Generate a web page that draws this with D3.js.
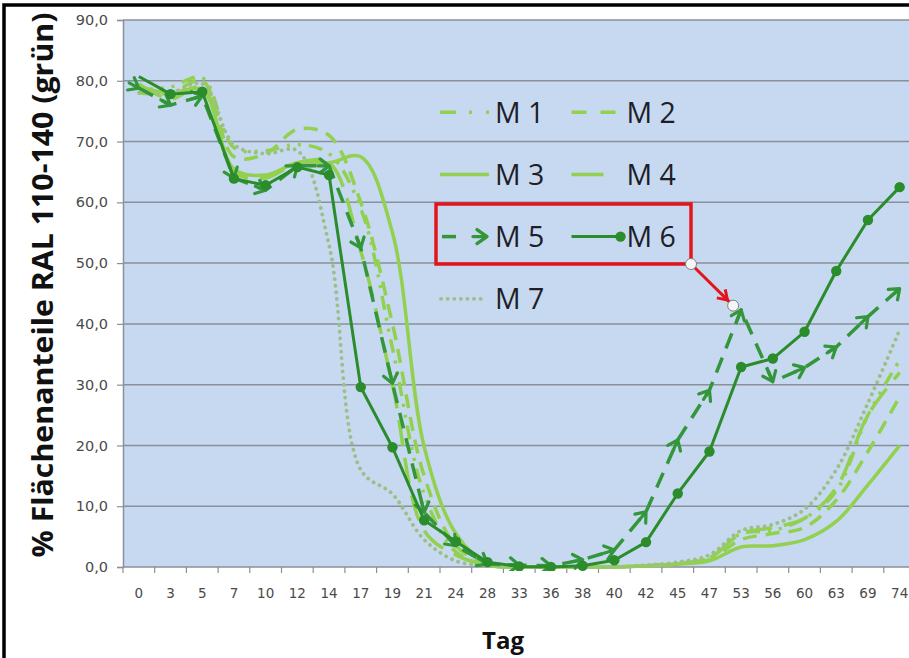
<!DOCTYPE html>
<html>
<head>
<meta charset="utf-8">
<script src="https://cdn.jsdelivr.net/npm/d3@7"></script>
<style>
  body { margin: 0; background: #fff; }
  svg { display: block; }
</style>
</head>
<body>
<div id="chart"></div>
<script>
// Tage (Kategorien)
const days = ["0", "3", "5", "7", "10", "12", "14", "17", "19", "21", "24", "28", "33",
              "36", "38", "40", "42", "45", "47", "53", "56", "60", "63", "69", "74"];

// Flächenanteile je Messreihe
const m1 = [78.5, 79, 80.5, 69, 68.5, 69.5, 68, 59, 36, 12, 2.5, 0.3, 0, 0, 0, 0, 0.2, 0.5, 1.5, 5.5, 6, 8, 12.5, 25, 34];
const m2 = [78, 78, 80, 67.5, 68, 72, 71, 60, 40, 15, 3.5, 0.5, 0, 0, 0, 0, 0.2, 0.5, 1.2, 4.5, 5.5, 6.5, 11, 19, 28];
const m3 = [79, 78, 78.5, 65.5, 64.5, 66.5, 66.5, 67.5, 55, 19.8, 5.5, 0.5, 0, 0, 0, 0, 0.2, 0.5, 1, 3.3, 3.5, 4.5, 7.5, 13.5, 20];
const m4 = [79.5, 77, 79, 65, 64, 66.5, 66.5, 52, 30, 6, 2, 0.3, 0, 0, 0, 0, 0.2, 0.6, 1.5, 5.5, 6.5, 8, 13, 25, 32];
const m5 = [78.8, 76, 77.5, 64, 62, 66, 66, 52.5, 30.2, 9, 3.5, 0.5, 0.3, 0.2, 1.2, 2.8, 9.1, 20.9, 29.1, 42.3, 30.5, 32.8, 36.2, 41.2, 45.8];
const m6 = [80.7, 77.8, 78.2, 63.9, 62.8, 65.8, 64.5, 29.6, 19.7, 7.7, 4.2, 0.8, 0.1, 0, 0.2, 1.1, 4.1, 12.1, 19, 32.9, 34.3, 38.7, 48.7, 57.1, 62.5];
const m7 = [78, 78, 79.5, 69.5, 68, 68.5, 53, 16, 12, 4.5, 1, 0.2, 0, 0, 0, 0, 0.3, 0.8, 2, 6, 7, 9.5, 16, 27, 39];

const seriesNames = ["M 1", "M 2", "M 3", "M 4", "M 5", "M 6", "M 7"];
const yTicks = [0, 10, 20, 30, 40, 50, 60, 70, 80, 90];

const series = [
  { name: seriesNames[0], values: m1, color: "#92d050", dash: "14,8,3,8,3,8", width: 3.5, smooth: true },
  { name: seriesNames[1], values: m2, color: "#92d050", dash: "14,9", width: 3.5, smooth: true },
  { name: seriesNames[2], values: m3, color: "#92d050", dash: null, width: 3.5, smooth: true },
  { name: seriesNames[3], values: m4, color: "#92d050", dash: "26,12", width: 3.5, smooth: true },
  { name: seriesNames[6], values: m7, color: "#9cbf88", dash: "0.1,6.5", width: 3.8, smooth: true, round: true },
  { name: seriesNames[4], values: m5, color: "#33963a", dash: "16,10", width: 3.5, marker: "arrow" },
  { name: seriesNames[5], values: m6, color: "#2a8c2a", dash: null, width: 3, marker: "circle" }
];

const W = 909, H = 658;
const plotLeft = 123, plotTop = 20, plotBottom = 567;
const step = 31.7;

const svg = d3.select("#chart").append("svg")
  .attr("width", W).attr("height", H);

const x = d3.scaleBand()
  .domain(days)
  .range([plotLeft, plotLeft + step * days.length])
  .padding(0);

const y = d3.scaleLinear()
  .domain([0, 90])
  .range([plotBottom, plotTop]);

const cx = d => x(d) + x.bandwidth() / 2;

// Plotfläche
svg.append("rect")
  .attr("x", plotLeft).attr("y", plotTop)
  .attr("width", x.range()[1] - plotLeft).attr("height", plotBottom - plotTop)
  .attr("fill", "#c6d9f0");

// Gitterlinien
svg.selectAll(".grid")
  .data(yTicks.filter(d => d > 0))
  .enter().append("line")
  .attr("x1", plotLeft).attr("x2", x.range()[1])
  .attr("y1", d => y(d)).attr("y2", d => y(d))
  .attr("stroke", "#8a9099").attr("stroke-width", 1.5);

// Y-Achse
const yAxis = d3.axisLeft(y)
  .tickValues(yTicks)
  .tickSize(6)
  .tickPadding(9)
  .tickFormat(d => d3.format(".1f")(d).replace(".", ","));

const gy = svg.append("g")
  .attr("transform", `translate(${plotLeft},0)`)
  .call(yAxis);
gy.select(".domain").attr("stroke", "#8a9099").attr("stroke-width", 1.5);
gy.selectAll(".tick line").attr("stroke", "#8a9099").attr("stroke-width", 1.2);
gy.selectAll(".tick text")
  .attr("fill", "#4a4a4a")
  .style("font-family", "DejaVu Sans")
  .style("font-size", "14.5px");

// X-Achse
svg.append("line")
  .attr("x1", plotLeft).attr("x2", x.range()[1])
  .attr("y1", plotBottom).attr("y2", plotBottom)
  .attr("stroke", "#8a9099").attr("stroke-width", 1.5);

svg.selectAll(".xtick")
  .data(days)
  .enter().append("line")
  .attr("x1", d => x(d)).attr("x2", d => x(d))
  .attr("y1", plotBottom).attr("y2", plotBottom + 6)
  .attr("stroke", "#8a9099").attr("stroke-width", 1.2);

svg.selectAll(".xlabel")
  .data(days)
  .enter().append("text")
  .attr("x", d => cx(d))
  .attr("y", 598)
  .attr("text-anchor", "middle")
  .attr("fill", "#4a4a4a")
  .style("font-family", "DejaVu Sans")
  .style("font-size", "13.5px")
  .text(d => d);

// Linien
svg.append("clipPath").attr("id", "plotclip")
  .append("rect").attr("x", plotLeft).attr("y", 0).attr("width", W).attr("height", plotBottom + 4);

const gLines = svg.append("g").attr("clip-path", "url(#plotclip)");

series.forEach(s => {
  const pts = s.values.map((v, i) => [cx(days[i]), y(v)]);
  const line = d3.line()
    .curve(s.smooth ? d3.curveCatmullRom.alpha(0.5) : d3.curveLinear);
  gLines.append("path")
    .attr("d", line(pts))
    .attr("fill", "none")
    .attr("stroke", s.color)
    .attr("stroke-width", s.width)
    .attr("stroke-linecap", s.round ? "round" : "butt")
    .attr("stroke-linejoin", "round")
    .attr("stroke-dasharray", s.dash);

  if (s.marker === "circle") {
    gLines.selectAll(null)
      .data(pts.slice(1))
      .enter().append("circle")
      .attr("cx", p => p[0]).attr("cy", p => p[1])
      .attr("r", 5.2)
      .attr("fill", s.color);
  }
  if (s.marker === "arrow") {
    pts.forEach((p, i) => {
      const a = i > 0 ? pts[i - 1] : p;
      const b = i > 0 ? p : pts[1];
      const ang = Math.atan2(b[1] - a[1], b[0] - a[0]) * 180 / Math.PI;
      gLines.append("path")
        .attr("d", "M-9,-7L0,0L-9,7M0,0L-11,0")
        .attr("transform", `translate(${p[0]},${p[1]}) rotate(${ang})`)
        .attr("fill", "none")
        .attr("stroke", s.color)
        .attr("stroke-width", 3.2)
        .attr("stroke-linecap", "round")
        .attr("stroke-linejoin", "round");
    });
  }
});

// Legende
const legendOrder = [0, 1, 2, 3, 5, 6, 4];
const lg = svg.append("g");
legendOrder.forEach((si, k) => {
  const s = series[si];
  const col = k % 2, row = Math.floor(k / 2);
  const x0 = 440 + col * 131.5;
  const base = 122.7 + row * 62.2;
  const ly = base - 10.5;
  if (s.name === "M 4") {
    lg.append("line").attr("x1", x0).attr("x2", x0 + 32).attr("y1", ly).attr("y2", ly)
      .attr("stroke", s.color).attr("stroke-width", s.width);
  } else if (s.name === "M 1") {
    lg.append("line").attr("x1", x0).attr("x2", x0 + 50).attr("y1", ly).attr("y2", ly)
      .attr("stroke", s.color).attr("stroke-width", s.width)
      .attr("stroke-dasharray", "16,13,3,14,3,20");
  } else if (s.name === "M 2") {
    lg.append("line").attr("x1", x0).attr("x2", x0 + 46).attr("y1", ly).attr("y2", ly)
      .attr("stroke", s.color).attr("stroke-width", s.width)
      .attr("stroke-dasharray", "15,14");
  } else if (s.name === "M 7") {
    lg.append("line").attr("x1", x0 + 1).attr("x2", x0 + 46).attr("y1", ly).attr("y2", ly)
      .attr("stroke", s.color).attr("stroke-width", s.width)
      .attr("stroke-linecap", "round")
      .attr("stroke-dasharray", "0.1,6.5");
  } else if (s.marker === "arrow") {
    lg.append("line").attr("x1", x0 + 2).attr("x2", x0 + 16).attr("y1", ly).attr("y2", ly)
      .attr("stroke", s.color).attr("stroke-width", s.width);
    lg.append("path")
      .attr("d", "M-10,-7L0,0L-10,7M0,0L-14,0")
      .attr("transform", `translate(${x0 + 47},${ly})`)
      .attr("fill", "none").attr("stroke", s.color).attr("stroke-width", 3.4)
      .attr("stroke-linecap", "round").attr("stroke-linejoin", "round");
  } else {
    lg.append("line").attr("x1", x0).attr("x2", x0 + 49).attr("y1", ly).attr("y2", ly)
      .attr("stroke", s.color).attr("stroke-width", s.width);
    if (s.marker === "circle") {
      lg.append("circle").attr("cx", x0 + 49).attr("cy", ly).attr("r", 5.2).attr("fill", s.color);
    }
  }
  lg.append("text")
    .attr("x", x0 + 55).attr("y", base)
    .attr("fill", "#1e1e28")
    .style("font-family", "Open Sans")
    .style("font-size", "28.5px")
    .text(s.name);
});

// Markierung (roter Rahmen + Pfeil)
const bx0 = 436, by0 = 204, bx1 = 691, by1 = 264;
svg.append("rect")
  .attr("x", bx0).attr("y", by0)
  .attr("width", bx1 - bx0).attr("height", by1 - by0)
  .attr("fill", "none").attr("stroke", "#e3141c").attr("stroke-width", 3.5);

const tipX = cx("53") - 8, tipY = y(43);
svg.append("line")
  .attr("x1", bx1).attr("y1", by1).attr("x2", tipX - 3).attr("y2", tipY - 3)
  .attr("stroke", "#e3141c").attr("stroke-width", 3);
const aang = Math.atan2(tipY - by1, tipX - bx1) * 180 / Math.PI;
svg.append("path")
  .attr("d", "M-10,-6L-1,0L-10,6")
  .attr("transform", `translate(${tipX - 5},${tipY - 5}) rotate(${aang})`)
  .attr("fill", "none").attr("stroke", "#e3141c").attr("stroke-width", 3)
  .attr("stroke-linejoin", "round");
[[bx1, by1], [tipX, tipY]].forEach(p => {
  svg.append("circle").attr("cx", p[0]).attr("cy", p[1]).attr("r", 5.5)
    .attr("fill", "#f4f6f8").attr("stroke", "#7f7f7f").attr("stroke-width", 1);
});

// Achsentitel
svg.append("text")
  .attr("transform", "translate(53,285) rotate(-90)")
  .attr("text-anchor", "middle")
  .attr("fill", "#111")
  .style("font-family", "Open Sans")
  .style("font-weight", "bold")
  .style("font-size", "28px")
  .attr("textLength", 545)
  .attr("lengthAdjust", "spacingAndGlyphs")
  .text("% Flächenanteile RAL 110-140 (grün)");

svg.append("text")
  .attr("x", 503).attr("y", 649)
  .attr("text-anchor", "middle")
  .attr("fill", "#111")
  .style("font-family", "Open Sans")
  .style("font-weight", "bold")
  .style("font-size", "24px")
  .text("Tag");

// Rahmen
svg.append("rect")
  .attr("x", 4).attr("y", 5)
  .attr("width", 1200).attr("height", 1200)
  .attr("fill", "none").attr("stroke", "#000").attr("stroke-width", 3.5);
</script>
</body>
</html>
